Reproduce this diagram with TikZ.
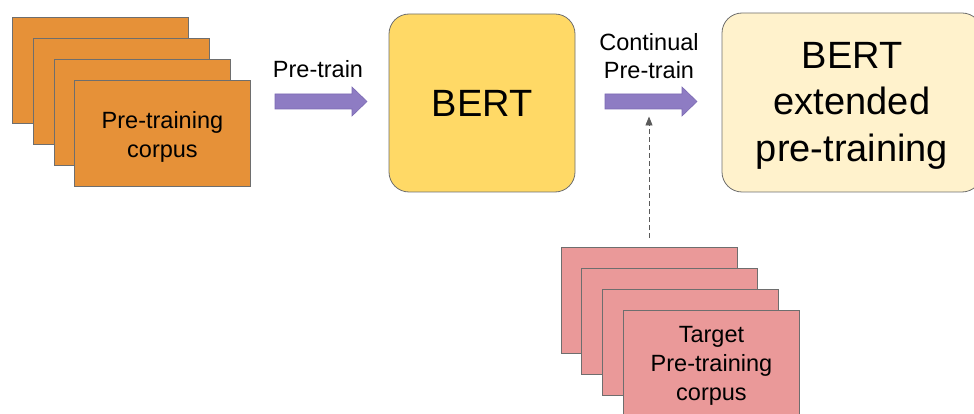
\documentclass[tikz,border=0pt]{standalone}
\usepackage{fontspec}
\setmainfont{Liberation Sans}
\usetikzlibrary{arrows.meta,calc}
\definecolor{corpusfill}{HTML}{E69138}
\definecolor{targetfill}{HTML}{EA9999}
\definecolor{bertfill}{HTML}{FFD966}
\definecolor{extfill}{HTML}{FFF2CC}
\definecolor{flowfill}{HTML}{8E7CC3}
\definecolor{flowline}{HTML}{7B69B3}
\definecolor{edgegray}{HTML}{6E6E6E}
\definecolor{dashgray}{HTML}{5A5A5A}
\begin{document}
\begin{tikzpicture}[x=1pt,y=-1pt,
  sheet/.style={draw=edgegray, line width=0.9pt, minimum width=176pt,
    minimum height=106pt, inner sep=0pt, anchor=north west},
  sheettext/.style={align=center, inner sep=0pt,
    font=\fontsize{23.5}{29}\selectfont},
  model/.style={draw=edgegray, line width=0.8pt, rounded corners=20pt,
    inner sep=0pt, align=center},
  steplabel/.style={align=center, inner sep=0pt,
    font=\fontsize{23.5}{28}\selectfont},
  flow/.style={fill=flowfill, draw=flowline, line width=0.6pt}]
\useasboundingbox (0,0) rectangle (974,414);

% source corpus: a stack of four sheets
\node[sheet, fill=corpusfill] (c1) at (12,17) {};
\node[sheet, fill=corpusfill] (c2) at (33,38) {};
\node[sheet, fill=corpusfill] (c3) at (54,59) {};
\node[sheet, fill=corpusfill] (c4) at (74,80) {};
\node[sheettext] (c4text) at ([yshift=-3.5pt]c4.center) {Pre-training\\corpus};

% target corpus: a second stack
\node[sheet, fill=targetfill] (t1) at (561,247) {};
\node[sheet, fill=targetfill] (t2) at (581,268) {};
\node[sheet, fill=targetfill] (t3) at (602,289) {};
\node[sheet, fill=targetfill] (t4) at (623,310) {};
\node[sheettext] (t4text) at ([yshift=-2pt]t4.center) {Target\\Pre-training\\corpus};

% models
\node[model, fill=bertfill, minimum width=186pt, minimum height=178pt,
  font=\fontsize{38}{46}\selectfont] (bert) at (482,103) {BERT};
\node[model, fill=extfill, minimum width=260pt, minimum height=179pt]
  (ext) at (852,102.5) {};
\node[align=center, inner sep=0pt, font=\fontsize{38}{46.5}\selectfont]
  (exttext) at ([yshift=-3pt]ext.center) {BERT\\extended\\pre-training};

% step labels
\node[steplabel] (lpre) at (318,69.5) {Pre-train};
\node[steplabel] (lcont) at (649,56.5) {Continual\\Pre-train};

% block arrows between the stages
\coordinate (a1s) at (275,101.5);
\coordinate (a1e) at (367,101.5);
\coordinate (a2s) at (605,101.5);
\coordinate (a2e) at (697,101.5);
\foreach \s/\e in {a1s/a1e, a2s/a2e}{
  \path[flow] ($(\s)+(0,-7.5)$) -- ($(\e)+(-15,-7.5)$) -- ($(\e)+(-15,-14.5)$)
    -- (\e) -- ($(\e)+(-15,14.5)$) -- ($(\e)+(-15,7.5)$) -- ($(\s)+(0,7.5)$)
    -- cycle;
}

% target corpus feeds the continual pre-training step
\coordinate (feed) at ($(a2s)!0.5!(a2e)+(-2,15)$);
\draw[dashgray, line width=0.9pt, dash pattern=on 5pt off 3pt,
  -{Triangle[length=9pt,width=7pt]}, shorten <=9pt]
  (t1.north -| feed) -- (feed);
\end{tikzpicture}
\end{document}
